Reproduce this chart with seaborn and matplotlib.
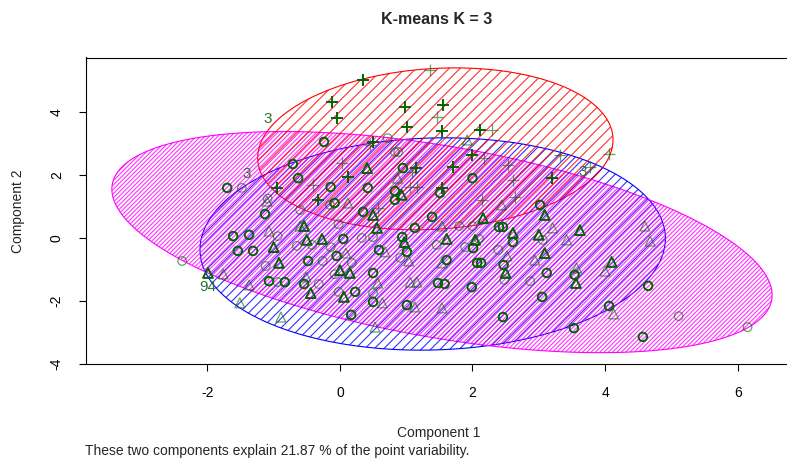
import numpy as np
import pandas as pd
import seaborn as sns
import matplotlib.pyplot as plt
from matplotlib.patches import Polygon
from matplotlib.collections import LineCollection

# Points on the first two components, per cluster (dark = drawn over itself)
circ_x = [-2.38, -1.61, -1.37, -1.54, -1.31, -0.94, -1.13, -1.12, -1.07, -0.94, -0.83, -0.65,
          -0.60, -0.42, -0.14, -0.48, -0.26, -0.02, -0.05, 0.05, 0.18, -0.08, -0.54, -0.32,
          -0.02, 0.23, 0.17, 0.35, 0.33, -0.15, -0.08, -0.24, -0.71, -0.63, -0.14, 0.42,
          -1.70, -1.48, -1.09, 0.72, 0.83, 0.88, 0.95, 2.00, 0.83, 1.51, 1.39, 1.13, 0.50,
          0.94, 1.46, 0.59, 1.01, 0.91, 1.61, 1.89, 2.10, 2.01, 2.00, 1.80, 2.46, 2.40, 2.61,
          2.39, 2.47, 2.48, 2.07, 2.13, 3.02, 3.06, 3.12, 2.87, 3.05, 2.46, 1.99, 1.48, 1.58,
          1.01, 0.50, 0.50, 0.50, 0.83, 3.54, 4.65, 4.06, 5.11, 6.15, 3.53, 4.57]
circ_y = [-0.73, 0.06, 0.10, -0.41, -0.41, 0.06, 0.76, -0.89, -1.37, -1.40, -1.40, -0.25,
          0.89, -0.22, -0.29, -0.73, -0.73, 0.44, -0.57, -0.03, -0.79, -1.15, -1.46, -1.46,
          -1.71, -1.71, -2.44, 0.83, 0.00, 1.05, 1.11, 3.05, 2.35, 1.90, 1.62, 1.59,
          1.59, 1.59, 1.25, 3.17, 2.73, 2.73, 2.22, 1.90, 1.49, 1.43, 0.67, 0.32, 0.03,
          0.03, -0.22, -0.38, -0.44, -0.63, -0.70, -0.29, -0.03, -0.32, 0.38, 0.38, 0.35, 0.35, -0.13,
          -0.38, -0.86, -1.33, -0.79, -0.79, 1.05, -0.06, -1.11, -1.37, -1.87, -2.51, -1.56, -1.43, -1.46,
          -2.13, -2.03, -1.75, -1.11, 1.21, -1.17, -1.52, -2.16, -2.48, -2.83, -2.86, -3.14]
circ_dark = [0, 1, 1, 1, 1, 0, 1, 0, 1, 0, 1, 0,
             0, 0, 0, 1, 0, 0, 1, 1, 0, 0, 1, 0,
             0, 1, 1, 1, 0, 0, 1, 1, 1, 1, 1, 1,
             1, 0, 0, 0, 0, 0, 1, 1, 1, 1, 1, 1, 0,
             1, 0, 1, 1, 0, 1, 0, 0, 1, 0, 0, 1, 1, 1,
             0, 1, 0, 1, 1, 1, 0, 1, 0, 1, 1, 1, 1, 1,
             1, 1, 0, 1, 1, 1, 1, 1, 0, 0, 1, 1]

tri_x = [-1.99, -1.76, -1.07, -1.00, -1.10, -0.92, -1.37, -1.51, -0.89, -0.54, -0.60, -0.50,
         -0.27, 0.12, 0.09, 0.00, 0.15, -0.51, -0.44, 0.06, 0.41, 0.87, 1.92, 0.93, 1.54,
         0.56, 0.97, 1.61, 0.68, 1.04, 1.54, 2.04, 2.16, 2.61, 2.52, 2.50, 3.09, 2.44, 3.21,
         3.00, 3.09, 2.94, 1.54, 1.13, 0.64, 1.06, 1.16, 0.57, 0.53, 3.62, 3.42, 4.60, 4.68,
         4.10, 4.00, 3.56, 3.57, 4.13, 0.50]
tri_y = [-1.11, -1.14, 0.22, -0.29, 1.17, -0.79, -1.49, -2.06, -2.51, 0.38, 0.38, -0.06,
         -0.03, 1.11, -0.48, -1.02, -1.11, -1.24, -1.75, -1.87, 2.22, 1.90, 3.11, 1.37, 0.38,
         0.32, -0.13, -0.03, -0.44, -0.73, -0.79, -0.06, 0.63, 0.16, -0.57, -1.11, 0.73, 1.05, 0.32,
         0.10, -0.48, -0.70, -2.22, -2.19, -2.06, -1.40, -1.40, -1.43, -2.83, 0.25, -0.06, 0.38, -0.10,
         -0.76, -1.05, -1.43, -0.95, -2.41, 0.73]
tri_dark = [1, 0, 0, 1, 0, 1, 0, 0, 0, 1, 0, 1,
            1, 0, 0, 1, 1, 0, 1, 1, 1, 0, 0, 1, 0,
            1, 1, 1, 0, 0, 0, 1, 1, 1, 0, 1, 1, 0, 0,
            1, 1, 0, 0, 0, 0, 0, 0, 0, 0, 1, 0, 0, 0,
            1, 0, 1, 0, 0, 1]

plus_x = [0.35, -0.12, -0.05, 0.03, 0.12, -0.95, -0.41, 0.50, 1.36, 0.98, 1.55, 1.46, 1.01,
          1.54, 2.11, 2.29, 1.99, 2.17, 2.53, 1.70, 1.15, 1.09, 2.61, 3.20, 3.32, 1.16, 1.06,
          1.54, 2.64, 3.77, 4.06, 2.14, 0.57, 0.45, -0.33]
plus_y = [5.02, 4.32, 3.81, 2.38, 1.94, 1.59, 1.68, 3.05, 5.33, 4.16, 4.22, 3.84, 3.52,
          3.40, 3.43, 3.43, 2.63, 2.54, 2.32, 2.25, 2.22, 2.10, 1.84, 1.90, 2.63, 1.62, 1.62,
          1.59, 1.30, 2.25, 2.67, 1.21, 0.95, 2.95, 1.21]
plus_dark = [1, 1, 1, 0, 1, 1, 0, 1, 0, 1, 1, 0, 1,
             1, 1, 0, 1, 0, 0, 1, 1, 0, 0, 1, 0, 0, 0,
             1, 0, 0, 0, 0, 0, 0, 1]

# Cluster ellipses: centre, half-width, half-height, phase shift (deg)
ell_cx = [1.40, 1.54, 1.44]
ell_cy = [-0.19, -0.13, 2.83]
ell_a = [3.51, 4.98, 2.68]
ell_b = [3.37, 3.51, 2.57]
ell_shift = [3.0, -28.6, 6.4]
ell_colors = ["#0000ff", "#ff00ff", "#ff0000"]
ell_spacing = [9.5, 4.3, 11.0]   # shading density, px between lines

point_labels = ["3", "3", "3", "94"]
label_x = [-1.09, -1.40, 3.67, -2.00]
label_y = [3.78, 2.02, 2.08, -1.56]

GREEN = "#006400"

sns.set_style("white")
plt.rcParams["font.family"] = ["Liberation Sans", "DejaVu Sans"]
plt.rcParams["axes.unicode_minus"] = False

fig = plt.figure(figsize=(7.87, 4.59), dpi=100)
ax = fig.add_axes([86 / 787, 1 - 364 / 459, 706 / 787, 306.5 / 459])
ax.set_xlim(-3.83, 6.82)
ax.set_ylim(-4.0, 5.73)


def hatch_segments(ax, spacing, angle=45):
    """ Parallel lines covering the axes, in axes coordinates. """
    w, h = ax.bbox.width, ax.bbox.height
    run = h / np.tan(np.radians(angle))
    starts = np.arange(-run, w + spacing, spacing)
    return [[(s / w, 0), ((s + run) / w, 1)] for s in starts]


t = np.linspace(0, 2 * np.pi, 300)
for cx, cy, a, b, sh, col, sp in zip(ell_cx, ell_cy, ell_a, ell_b, ell_shift, ell_colors, ell_spacing):
    xs = cx + a * np.cos(t)
    ys = cy + b * np.sin(t + np.radians(sh))
    poly = Polygon(np.column_stack([xs, ys]), closed=True, fill=False, edgecolor=col, lw=0.8)
    ax.add_patch(poly)
    lc = LineCollection(hatch_segments(ax, sp), colors=col, linewidths=0.8, alpha=0.8,
                        transform=ax.transAxes)
    lc.set_clip_path(poly)
    ax.add_collection(lc, autolim=False)

pts = pd.concat([
    pd.DataFrame({"x": circ_x, "y": circ_y, "dark": circ_dark, "shape": "o"}),
    pd.DataFrame({"x": tri_x, "y": tri_y, "dark": tri_dark, "shape": "^"}),
    pd.DataFrame({"x": plus_x, "y": plus_y, "dark": plus_dark, "shape": "+"}),
])
sizes = {"o": 38, "^": 50, "+": 75}
for (shape, dark), grp in pts.groupby(["shape", "dark"]):
    lw = 1.4 if dark else 0.9
    alpha = 1.0 if dark else 0.6
    if shape == "+":
        sns.scatterplot(data=grp, x="x", y="y", marker="+", s=sizes[shape], color=GREEN,
                        linewidth=lw, alpha=alpha, ax=ax, legend=False, zorder=3)
    else:
        sns.scatterplot(data=grp, x="x", y="y", marker=shape, s=sizes[shape], facecolors="none",
                        edgecolor=GREEN, linewidth=lw, alpha=alpha, ax=ax, legend=False, zorder=3)

for lab, lx, ly in zip(point_labels, label_x, label_y):
    ax.text(lx, ly, lab, color="#2e6e2e", fontsize=11, ha="center", va="center", zorder=4)

ax.set_xlim(-3.83, 6.82)
ax.set_ylim(-4.0, 5.73)
ax.set_xlabel("")
ax.set_ylabel("")
ax.set_xticks([-2, 0, 2, 4, 6])
ax.set_yticks([-4, -2, 0, 2, 4])
ax.tick_params(bottom=True, left=True, direction="out", length=5, width=0.8,
               labelsize=10, pad=11, colors="black")
for lab in ax.get_yticklabels():
    lab.set_rotation(90)
    lab.set_va("center")
for sp in ax.spines.values():
    sp.set_color("black")
    sp.set_linewidth(0.8)

fig.text(436.5 / 787, 1 - 20 / 459, "K-means K = 3", ha="center", va="center",
         fontsize=11.5, fontweight="bold")
fig.text(439 / 787, 1 - 433 / 459, "Component 1", ha="center", va="center", fontsize=10)
fig.text(18 / 787, 1 - 211 / 459, "Component 2", ha="center", va="center", fontsize=10,
         rotation=90)
fig.text(85 / 787, 1 - 451 / 459, "These two components explain 21.87 % of the point variability.",
         ha="left", va="center", fontsize=10)

fig.savefig("out.png", dpi=100)
